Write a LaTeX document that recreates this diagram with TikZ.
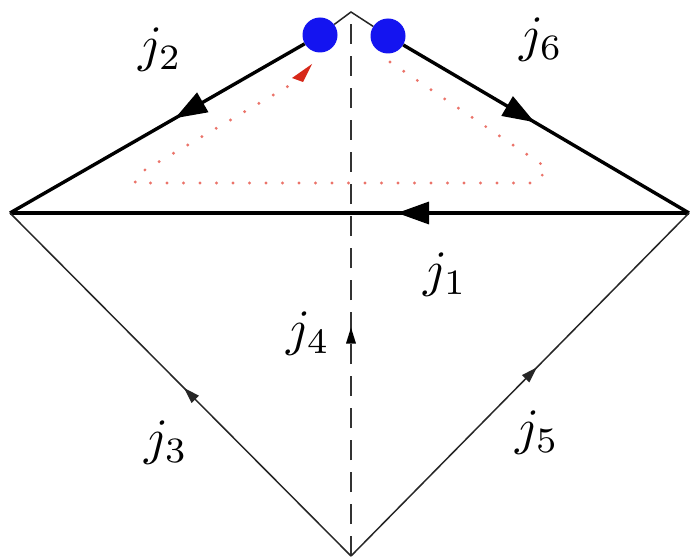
\documentclass[tikz,border=0pt]{standalone}
\usetikzlibrary{arrows.meta,decorations.markings}
\newcommand\jl[1]{\scalebox{5.1}{$j_{#1}$}}
\definecolor{dotblue}{RGB}{20,20,240}
\definecolor{pathred}{RGB}{235,115,105}
\definecolor{tipred}{RGB}{215,40,25}
\tikzset{
  thickedge/.style={line width=3.4pt,black},
  thinedge/.style={line width=1.5pt,black!85},
  bigarrow/.style={postaction={decorate,decoration={markings,mark=at position #1 with {\arrow{Triangle[length=32pt,width=22pt]}}}}},
  smallarrow/.style={postaction={decorate,decoration={markings,mark=at position #1 with {\arrow{Triangle[length=16pt,width=10pt]}}}}},
  vertexdot/.style={circle,fill=dotblue,draw=none,minimum size=35pt,inner sep=0pt},
  jlabel/.style={inner sep=0pt},
  redpath/.style={pathred,line width=3.2pt,line cap=round,dash pattern=on 0pt off 16.5pt},
  axisdash/.style={black!80,line width=1.8pt,dash pattern=on 20pt off 12pt}
}
\begin{document}
\begin{tikzpicture}[x=1pt,y=-1pt]
\useasboundingbox (0,0) rectangle (691,559);
\fill[white!97!black!3] (0,0) rectangle (691,559);
\coordinate (L) at (10,213);
\coordinate (R) at (689,213);
\coordinate (T) at (351,12);
\coordinate (B) at (351,556);
\coordinate (p1) at (390,62);
\coordinate (p2) at (547,168);
\coordinate (p3) at (537,183);
\coordinate (p4) at (135,183);
\coordinate (p5) at (138,174);
\coordinate (p6) at (292,84);
% dashed axis
\draw[axisdash] (B) -- (T);
\draw[smallarrow=0.42, line width=0pt, draw=none] (B) -- (T);
% red dotted loop
\draw[redpath] (p1) -- (p2) -- (p3) -- (p4) -- (p5) -- (p6);
\node[vertexdot] (d1) at (320,35) {};
\node[vertexdot] (d2) at (388,36) {};
% edges
\draw[thinedge] (d1) -- (T) -- (d2);
\draw[thickedge,bigarrow=0.44] (d1) -- (L);
\draw[thickedge,bigarrow=0.46] (d2) -- (R);
\draw[thickedge,bigarrow=0.43] (R) -- (L);
\draw[thinedge,smallarrow=0.49] (B) -- (L);
\draw[thinedge,smallarrow=0.55] (B) -- (R);
% red arrowhead
\draw[draw=none,fill=tipred] (312,64) -- (292,78) -- (303,82) -- cycle;
% labels
\node[jlabel] (l2) at (160,50) {\jl{2}};
\node[jlabel] (l6) at (541,40) {\jl{6}};
\node[jlabel] (l1) at (445,275) {\jl{1}};
\node[jlabel] (l4) at (308,334) {\jl{4}};
\node[jlabel] (l3) at (166,443) {\jl{3}};
\node[jlabel] (l5) at (537,433) {\jl{5}};
\end{tikzpicture}
\end{document}
